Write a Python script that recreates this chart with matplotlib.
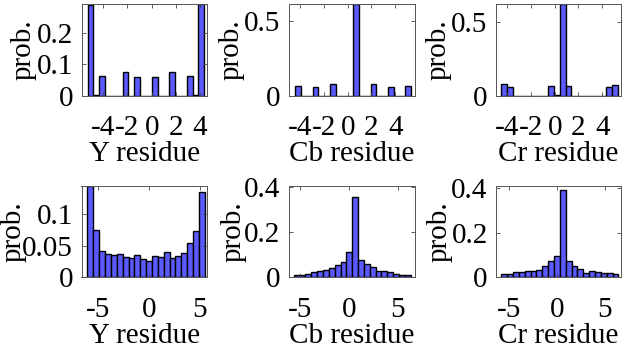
import numpy as np
import matplotlib.pyplot as plt

plt.rcParams['font.family'] = ['Liberation Serif', 'DejaVu Serif']
plt.rcParams['axes.unicode_minus'] = False

# top row: Y / Cb / Cr residue (20 bins each)
y_top_range = (-5.3, 4.35)
y_top = [0.286, 0.003, 0.064, 0, 0, 0, 0.075, 0, 0.059, 0,
         0, 0.059, 0, 0, 0.076, 0, 0, 0.064, 0.003, 0.29]
cb_top_range = (-4.41, 5.33)
cb_top = [0.070, 0, 0, 0.063, 0, 0, 0.078, 0, 0, 0,
          0.614, 0.003, 0, 0.080, 0, 0, 0.063, 0, 0, 0.070]
cr_top_range = (-4.48, 5.33)
cr_top = [0.080, 0.063, 0, 0, 0, 0, 0, 0, 0.070, 0.004,
          0.618, 0.070, 0, 0, 0, 0, 0, 0, 0.063, 0.076]

# bottom row
y_bot_range = (-6.05, 5.5)
y_bot = [0.145, 0.0746, 0.0422, 0.0365, 0.0349, 0.0365, 0.0327, 0.0311, 0.0359, 0.0286,
         0.0264, 0.0333, 0.0322, 0.040, 0.0306, 0.0343, 0.038, 0.054, 0.073, 0.135]
cb_bot_range = (-5.69, 6.33)
cb_bot = [0.0088, 0.0115, 0.0146, 0.023, 0.0278, 0.031, 0.042, 0.056, 0.0675, 0.112,
          0.353, 0.076, 0.059, 0.047, 0.029, 0.0278, 0.023, 0.0146, 0.0115, 0.0088]
cr_bot_range = (-5.8, 6.4)
cr_bot = [0.0138, 0.0165, 0.023, 0.0257, 0.0275, 0.029, 0.032, 0.050, 0.075, 0.096,
          0.39, 0.075, 0.050, 0.039, 0.021, 0.0275, 0.024, 0.021, 0.020, 0.0165]

panels = [
    (y_top_range, y_top, 'Y residue', (-5.8, 4.58), 0.29, [-4, -2, 0, 2, 4], [0, 0.1, 0.2], ['0', '0.1', '0.2']),
    (cb_top_range, cb_top, 'Cb residue', (-4.98, 5.66), 0.614, [-4, -2, 0, 2, 4], [0, 0.5], ['0', '0.5']),
    (cr_top_range, cr_top, 'Cr residue', (-4.93, 5.6), 0.618, [-4, -2, 0, 2, 4], [0, 0.5], ['0', '0.5']),
    (y_bot_range, y_bot, 'Y residue', (-6.64, 5.72), 0.145, [-5, 0, 5], [0, 0.05, 0.1], ['0', '0.05', '0.1']),
    (cb_bot_range, cb_bot, 'Cb residue', (-6.23, 6.78), 0.403, [-5, 0, 5], [0, 0.2, 0.4], ['0', '0.2', '0.4']),
    (cr_bot_range, cr_bot, 'Cr residue', (-6.35, 6.7), 0.41, [-5, 0, 5], [0, 0.2, 0.4], ['0', '0.2', '0.4']),
]

W, H = 622, 353
fs = 21
fig = plt.figure(figsize=(W / 100, H / 100), dpi=100)
lefts = [81.5, 288.5, 496]
widths = [125.5, 126.5, 125.3]
tops = [4, 186]
heights = [92, 91.3]
# right edge (px) of the "prob." label for each panel
ylab_x = [37, 245, 452, 27, 247, 453]

for i, (rng, vals, xl, xlim, ytop, xt, yt, ytl) in enumerate(panels):
    r, c = divmod(i, 3)
    ax = fig.add_axes([lefts[c] / W, (H - tops[r] - heights[r]) / H, widths[c] / W, heights[r] / H])
    edges = np.linspace(rng[0], rng[1], len(vals) + 1)
    ax.bar(edges[:-1], vals, width=np.diff(edges), align='edge',
           color='#5a5aff', edgecolor='black', linewidth=1)
    ax.set_xlim(xlim)
    ax.set_ylim(0, ytop)
    ax.set_xticks(xt)
    ax.set_xticklabels([str(v) for v in xt])
    ax.set_yticks(yt)
    ax.set_yticklabels(ytl)
    ax.tick_params(direction='in', length=3, width=0.6, color='#444444',
                   top=True, right=True, labelsize=fs)
    ax.tick_params(axis='x', pad=14)
    ax.tick_params(axis='y', pad=6)
    for s in ax.spines.values():
        s.set_color('#555555')
        s.set_linewidth(0.7)
    ax.set_xlabel(xl, fontsize=fs, labelpad=0)
    ax.set_ylabel('prob.', fontsize=fs)
    ax.yaxis.set_label_coords((ylab_x[i] - lefts[c]) / widths[c], 0.5)

fig.savefig('out.png', dpi=100)
